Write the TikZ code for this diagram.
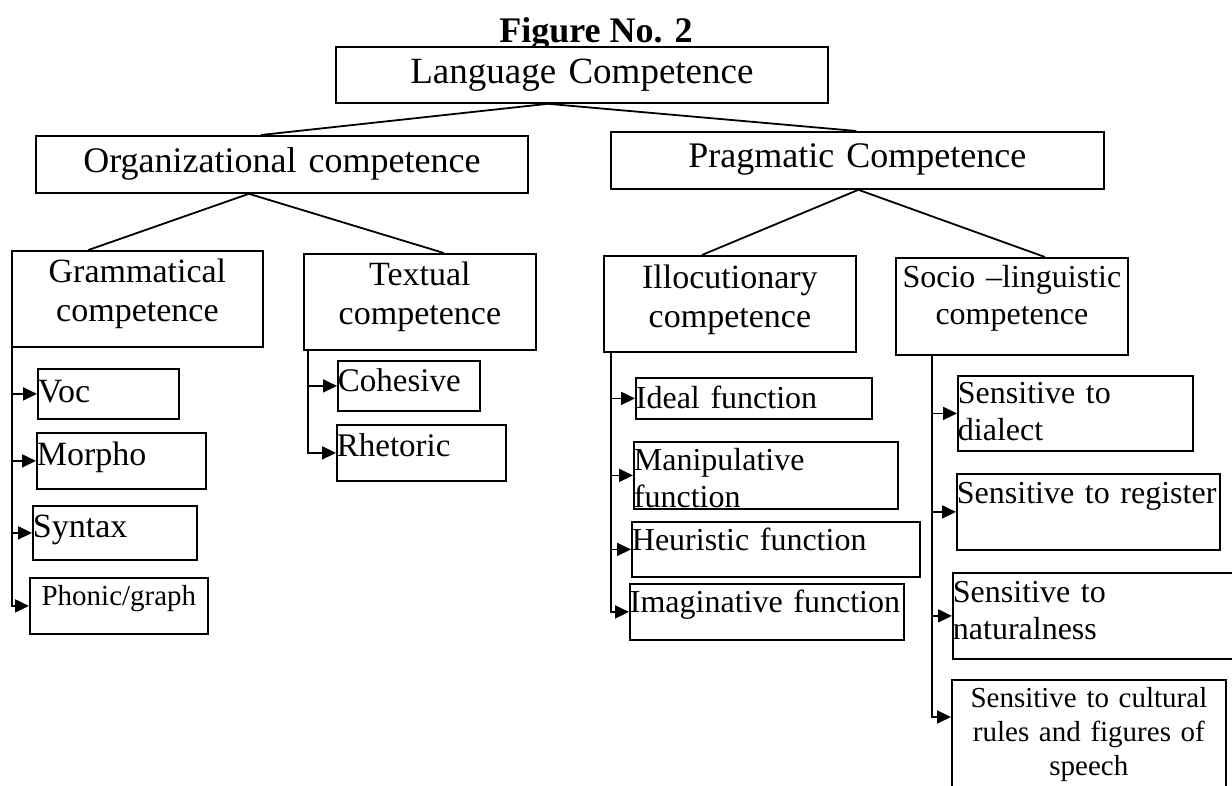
\documentclass[tikz,border=0pt]{standalone}
\usepackage{fontspec}
\setmainfont{Liberation Serif}
\usetikzlibrary{arrows.meta}

\begin{document}
\begin{tikzpicture}[x=1pt,y=-1pt,line width=1.8pt,
  >={Triangle[length=14pt,width=13pt]},
  box/.style n args={3}{draw,fill=white,anchor=north west,inner sep=0pt,
    minimum width=#1,text width=#1,text height=#2,text depth=#3-#2,
    align=left,font=\fontsize{34}{39}\selectfont},
  topbox/.style={align=center,font=\fontsize{36}{40}\selectfont},
  midbox/.style={align=center,font=\fontsize{34}{39}\selectfont},
  rbox/.style={font=\fontsize{32}{37}\selectfont},
  smallbox/.style={align=center,font=\fontsize{29}{34}\selectfont}]
 \useasboundingbox (0,0) rectangle (1232,786);
 \clip (0,0) rectangle (1232,786);

 \node[anchor=base,font=\bfseries\fontsize{36}{40}\selectfont] (title) at (596,43) {Figure No. 2};
 \node[box={492}{37}{56},topbox,font=\fontsize{37}{40}\selectfont] (lang) at (335,46) {Language Competence};
 \node[box={492}{37}{57},topbox] (org) at (35,135) {Organizational competence};
 \node[box={493}{36}{57},topbox] (prag) at (610,131) {Pragmatic Competence};

 \node[box={251}{32}{96},midbox] (gram) at (11,250) {Grammatical\\competence};
 \node[box={232}{32}{96},midbox] (textc) at (303,253) {Textual\\competence};
 \node[box={252}{33}{96},midbox] (illo) at (603,255) {Illocutionary\\competence};
 \node[box={232}{30}{97},midbox,rbox] (socio) at (895,257) {Socio --linguistic\\competence};

 \draw ([xshift=-34pt]lang.south) -- ([xshift=-21pt]org.north);
 \draw ([xshift=-34pt]lang.south) -- ([xshift=-1pt]prag.north);
 \draw ([xshift=-33pt]org.south) -- ([xshift=-49pt]gram.north);
 \draw ([xshift=-33pt]org.south) -- ([xshift=24pt]textc.north);
 \draw ([xshift=1pt]prag.south) -- ([xshift=-28pt]illo.north);
 \draw ([xshift=1pt]prag.south) -- ([xshift=33pt]socio.north);

 % grammatical
 \node[box={141}{34}{50}] (voc) at (37,368) {Voc};
 \node[box={169}{33}{56}] (morpho) at (36,432) {Morpho};
 \node[box={164}{32}{54}] (syntax) at (32,505) {Syntax};
 \node[box={178}{28}{56},smallbox] (phonic) at (29,577) {Phonic/graph};
 \coordinate (gt) at ([xshift=1pt]gram.south west);
 \draw[->] (gt) |- (phonic.west);
 \draw[->] (gt |- voc.west) -- (voc.west);
 \draw[->] (gt |- morpho.west) -- (morpho.west);
 \draw[->] (gt |- syntax.west) -- (syntax.west);

 % textual
 \node[box={142}{31}{50},font=\fontsize{33}{38}\selectfont] (cohes) at (337,360) {Cohesive};
 \node[box={169}{32}{56},font=\fontsize{33}{38}\selectfont] (rhet) at (336,424) {Rhetoric};
 \coordinate (tt) at ([xshift=5pt]textc.south west);
 \draw[->] (tt) |- (rhet.west);
 \draw[->] (tt |- cohes.west) -- (cohes.west);

 % illocutionary
 \node[box={236}{31}{41},rbox] (ideal) at (635,377) {Ideal function};
 \node[box={264}{29}{67},rbox] (manip) at (633,441) {Manipulative\\function};
 \node[box={288}{29}{55},rbox] (heur) at (631,521) {Heuristic function};
 \node[box={274}{29}{56},rbox] (imag) at (629,583) {Imaginative function};
 \coordinate (it) at ([xshift=8pt]illo.south west);
 \draw[->] (it) |- (imag.west);
 \draw[->] (it |- ideal.west) -- (ideal.west);
 \draw[->] (it |- manip.west) -- (manip.west);
 \draw[->] (it |- heur.west) -- (heur.west);

 % socio-linguistic
 \node[box={235}{28}{75},rbox] (dial) at (957,375) {Sensitive to\\dialect};
 \node[box={263}{30}{76},rbox] (regis) at (956,473) {Sensitive to register};
 \node[box={300}{30}{86},rbox] (natur) at (952,572) {Sensitive to\\naturalness};
 \node[box={274}{28}{130},smallbox] (cult) at (951,679) {Sensitive to cultural\\rules and figures of\\speech};
 \coordinate (st) at ([xshift=37pt]socio.south west);
 \draw[->] (st) |- ([yshift=-38pt]cult.north west);
 \draw[->] (st |- dial.west) -- (dial.west);
 \draw[->] (st |- regis.west) -- (regis.west);
 \draw[->] (st |- natur.west) -- (natur.west);
\end{tikzpicture}
\end{document}
